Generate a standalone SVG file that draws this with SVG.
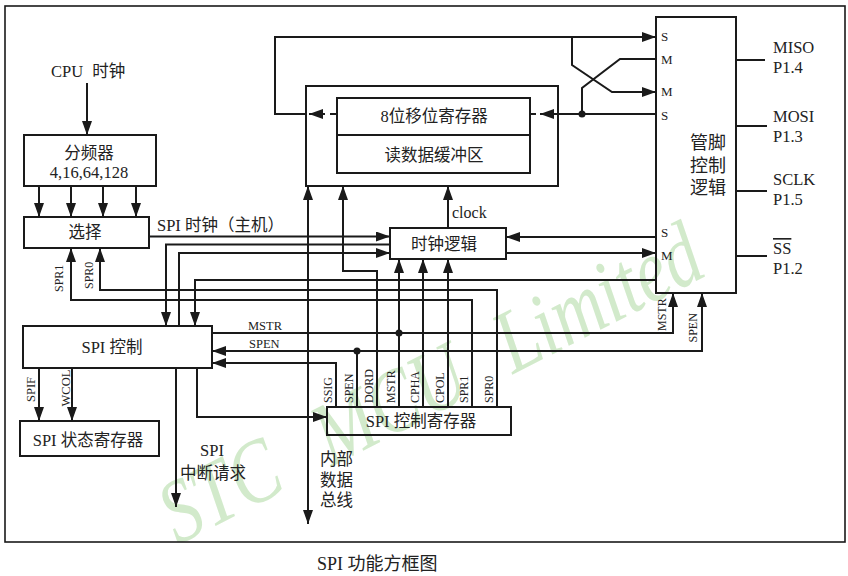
<svg xmlns="http://www.w3.org/2000/svg" width="848" height="576" viewBox="0 0 848 576">
<style>
.ln{fill:none;stroke:#1a1a1a;stroke-width:2}
.bx{fill:none;stroke:#1a1a1a;stroke-width:2}
.t{font-family:'Liberation Serif','Noto Sans CJK SC',serif;fill:#222;font-size:16.5px}
.c{text-anchor:middle}
.s{font-size:12px}
.p{font-size:13px}
.wm{font-family:'Liberation Serif',serif;font-style:italic;font-size:90px;fill:#d2eacb}
</style>
<defs>
<marker id="ah" viewBox="0 0 14 10" refX="14" refY="5" markerWidth="14" markerHeight="10" markerUnits="userSpaceOnUse" orient="auto-start-reverse">
<path d="M0,0 L14,5 L0,10 z" fill="#1a1a1a"/>
</marker>
</defs>
<rect x="0" y="0" width="848" height="576" fill="#fff"/>
<g id="watermark" transform="translate(178,545) rotate(-27) scale(0.8,1)">
<text class="wm" x="0" y="0">STC<tspan x="215">MCU</tspan><tspan x="470">Limited</tspan></text>
</g>
<rect id="frame" x="5" y="6" width="840" height="536" fill="none" stroke="#1a1a1a" stroke-width="1.6"/>

<g id="cpu-clock"><text class="t" x="51" y="77">CPU<tspan dx="5"> 时钟</tspan></text></g>
<g id="divider"><rect class="bx" x="24" y="135" width="132" height="51"/><text class="t c" x="89" y="159">分频器</text><text class="t c" x="89" y="178">4,16,64,128</text></g>
<g id="select"><rect class="bx" x="24" y="217" width="125" height="31"/><text class="t c" x="85" y="238">选择</text></g>
<g id="shift-block"><rect class="bx" x="306" y="86" width="252" height="100"/></g>
<g id="shift-reg"><rect class="bx" x="337" y="98" width="193" height="37"/><text class="t c" x="434" y="122">8位移位寄存器</text></g>
<g id="read-buf"><rect class="bx" x="337" y="135" width="193" height="38"/><text class="t c" x="434" y="161">读数据缓冲区</text></g>
<g id="clock-logic"><rect class="bx" x="390" y="228" width="116" height="31"/><text class="t c" x="444" y="250">时钟逻辑</text></g>
<g id="pin-logic"><rect class="bx" x="656" y="17" width="80" height="276"/>
<text class="t c" x="708" y="149" style="font-size:18px">管脚</text><text class="t c" x="708" y="171.5" style="font-size:18px">控制</text><text class="t c" x="708" y="194" style="font-size:18px">逻辑</text>
<text class="t p" x="661" y="41">S</text><text class="t p" x="661" y="64">M</text><text class="t p" x="661" y="96">M</text><text class="t p" x="661" y="120">S</text><text class="t p" x="661" y="237">S</text><text class="t p" x="661" y="260">M</text>
</g>
<g id="spi-ctrl"><rect class="bx" x="23" y="326" width="189" height="42"/><text class="t c" x="112" y="353">SPI 控制</text></g>
<g id="spi-status"><rect class="bx" x="20" y="421" width="139" height="35"/><text class="t c" x="88" y="446">SPI 状态寄存器</text></g>
<g id="spi-ctrl-reg"><rect class="bx" x="327" y="407" width="184" height="28"/><text class="t c" x="421" y="427">SPI 控制寄存器</text></g>
<g id="pins">
<text class="t" x="773" y="53">MISO</text><text class="t" x="773" y="73">P1.4</text>
<text class="t" x="773" y="122">MOSI</text><text class="t" x="773" y="141.5">P1.3</text>
<text class="t" x="773" y="185">SCLK</text><text class="t" x="773" y="205">P1.5</text>
<text class="t" x="773" y="254" text-decoration="overline">SS</text><text class="t" x="773" y="274">P1.2</text>
</g>

<g id="connectors">
<path class="ln" marker-end="url(#ah)" d="M87,83 V135"/>
<path class="ln" marker-end="url(#ah)" d="M39,186 V217"/>
<path class="ln" marker-end="url(#ah)" d="M71,186 V217"/>
<path class="ln" marker-end="url(#ah)" d="M103,186 V217"/>
<path class="ln" marker-end="url(#ah)" d="M136,186 V217"/>
<path class="ln" marker-end="url(#ah)" d="M149,236.5 H390"/>
<path class="ln" marker-end="url(#ah)" d="M390,244.5 H166 V326"/>
<path class="ln" marker-end="url(#ah)" d="M179,326 V253 H390"/>
<path class="ln" marker-end="url(#ah)" d="M656,280 H195 V326"/>
<path class="ln" marker-end="url(#ah)" d="M497,407 V290 H100 V248"/>
<path class="ln" marker-end="url(#ah)" d="M472,407 V300 H71 V248"/>
<path class="ln" marker-end="url(#ah)" d="M212,333 H673 V293"/>
<path class="ln" d="M357,407 V351"/>
<path class="ln" marker-end="url(#ah)" d="M357,351 H702 V293"/>
<path class="ln" marker-end="url(#ah)" d="M357,351 H212"/>
<path class="ln" marker-end="url(#ah)" d="M399,407 V259"/>
<path class="ln" marker-end="url(#ah)" d="M423,407 V259"/>
<path class="ln" marker-end="url(#ah)" d="M448,407 V259"/>
<path class="ln" marker-end="url(#ah)" d="M377,407 V271 H343 V186"/>
<path class="ln" marker-end="url(#ah)" d="M336,407 V363 H212"/>
<path class="ln" marker-start="url(#ah)" marker-end="url(#ah)" d="M308,186 V524"/>
<path class="ln" marker-end="url(#ah)" d="M39,368 V421"/>
<path class="ln" marker-end="url(#ah)" d="M72,368 V421"/>
<path class="ln" marker-end="url(#ah)" d="M176,368 V507"/>
<path class="ln" marker-end="url(#ah)" d="M197,368 V417 H327"/>
<path class="ln" marker-end="url(#ah)" d="M448,228 V186"/>
<path class="ln" marker-end="url(#ah)" d="M656,237 H506"/>
<path class="ln" marker-end="url(#ah)" d="M506,253 H656"/>
<path class="ln" marker-end="url(#ah)" d="M306,114 H275 V37 H656"/>
<path class="ln" marker-end="url(#ah)" d="M325,114 H309"/>
<path class="ln" d="M330,114 H336"/>
<path class="ln" marker-end="url(#ah)" d="M572,37 V65 L612,92 H656"/>
<path class="ln" marker-end="url(#ah)" d="M656,114 H540"/>
<path class="ln" d="M531,114 H536"/>
<path class="ln" d="M582,114 V88 L620,59 H656"/>
<path class="ln" d="M736,60 H765 M736,126 H767 M736,191 H767 M736,256 H767"/>
<circle cx="582" cy="114" r="3.5" fill="#1a1a1a"/>
<circle cx="399" cy="333" r="3.5" fill="#1a1a1a"/>
<circle cx="357" cy="351" r="3.5" fill="#1a1a1a"/>
</g>

<g id="labels">
<text class="t" x="157" y="231">SPI 时钟（主机）</text>
<text class="t" x="452" y="218" style="font-size:16px">clock</text>
<text class="t s" x="248" y="330" style="font-size:12.5px">MSTR</text>
<text class="t s" x="249" y="348" style="font-size:12.5px">SPEN</text>
<text class="t s" transform="translate(332,403) rotate(-90)">SSIG</text>
<text class="t s" transform="translate(353,403) rotate(-90)">SPEN</text>
<text class="t s" transform="translate(373,403) rotate(-90)">DORD</text>
<text class="t s" transform="translate(395,403) rotate(-90)">MSTR</text>
<text class="t s" transform="translate(419,403) rotate(-90)">CPHA</text>
<text class="t s" transform="translate(444,403) rotate(-90)">CPOL</text>
<text class="t s" transform="translate(468,403) rotate(-90)">SPR1</text>
<text class="t s" transform="translate(493,403) rotate(-90)">SPR0</text>
<text class="t s" transform="translate(63,292) rotate(-90)">SPR1</text>
<text class="t s" transform="translate(92.5,289) rotate(-90)">SPR0</text>
<text class="t s" transform="translate(35,402) rotate(-90)" style="font-size:12.5px">SPIF</text>
<text class="t s" transform="translate(70,406.5) rotate(-90)" style="font-size:12.5px">WCOL</text>
<text class="t s" transform="translate(665.5,331) rotate(-90)">MSTR</text>
<text class="t s" transform="translate(696.5,342.5) rotate(-90)">SPEN</text>
<text class="t c" x="212" y="456">SPI</text>
<text class="t c" x="213" y="479">中断请求</text>
<text class="t" x="320" y="465">内部</text>
<text class="t" x="320" y="486">数据</text>
<text class="t" x="320" y="506">总线</text>
<text class="t" x="317" y="570" style="font-size:18px">SPI 功能方框图</text>
</g>
</svg>
